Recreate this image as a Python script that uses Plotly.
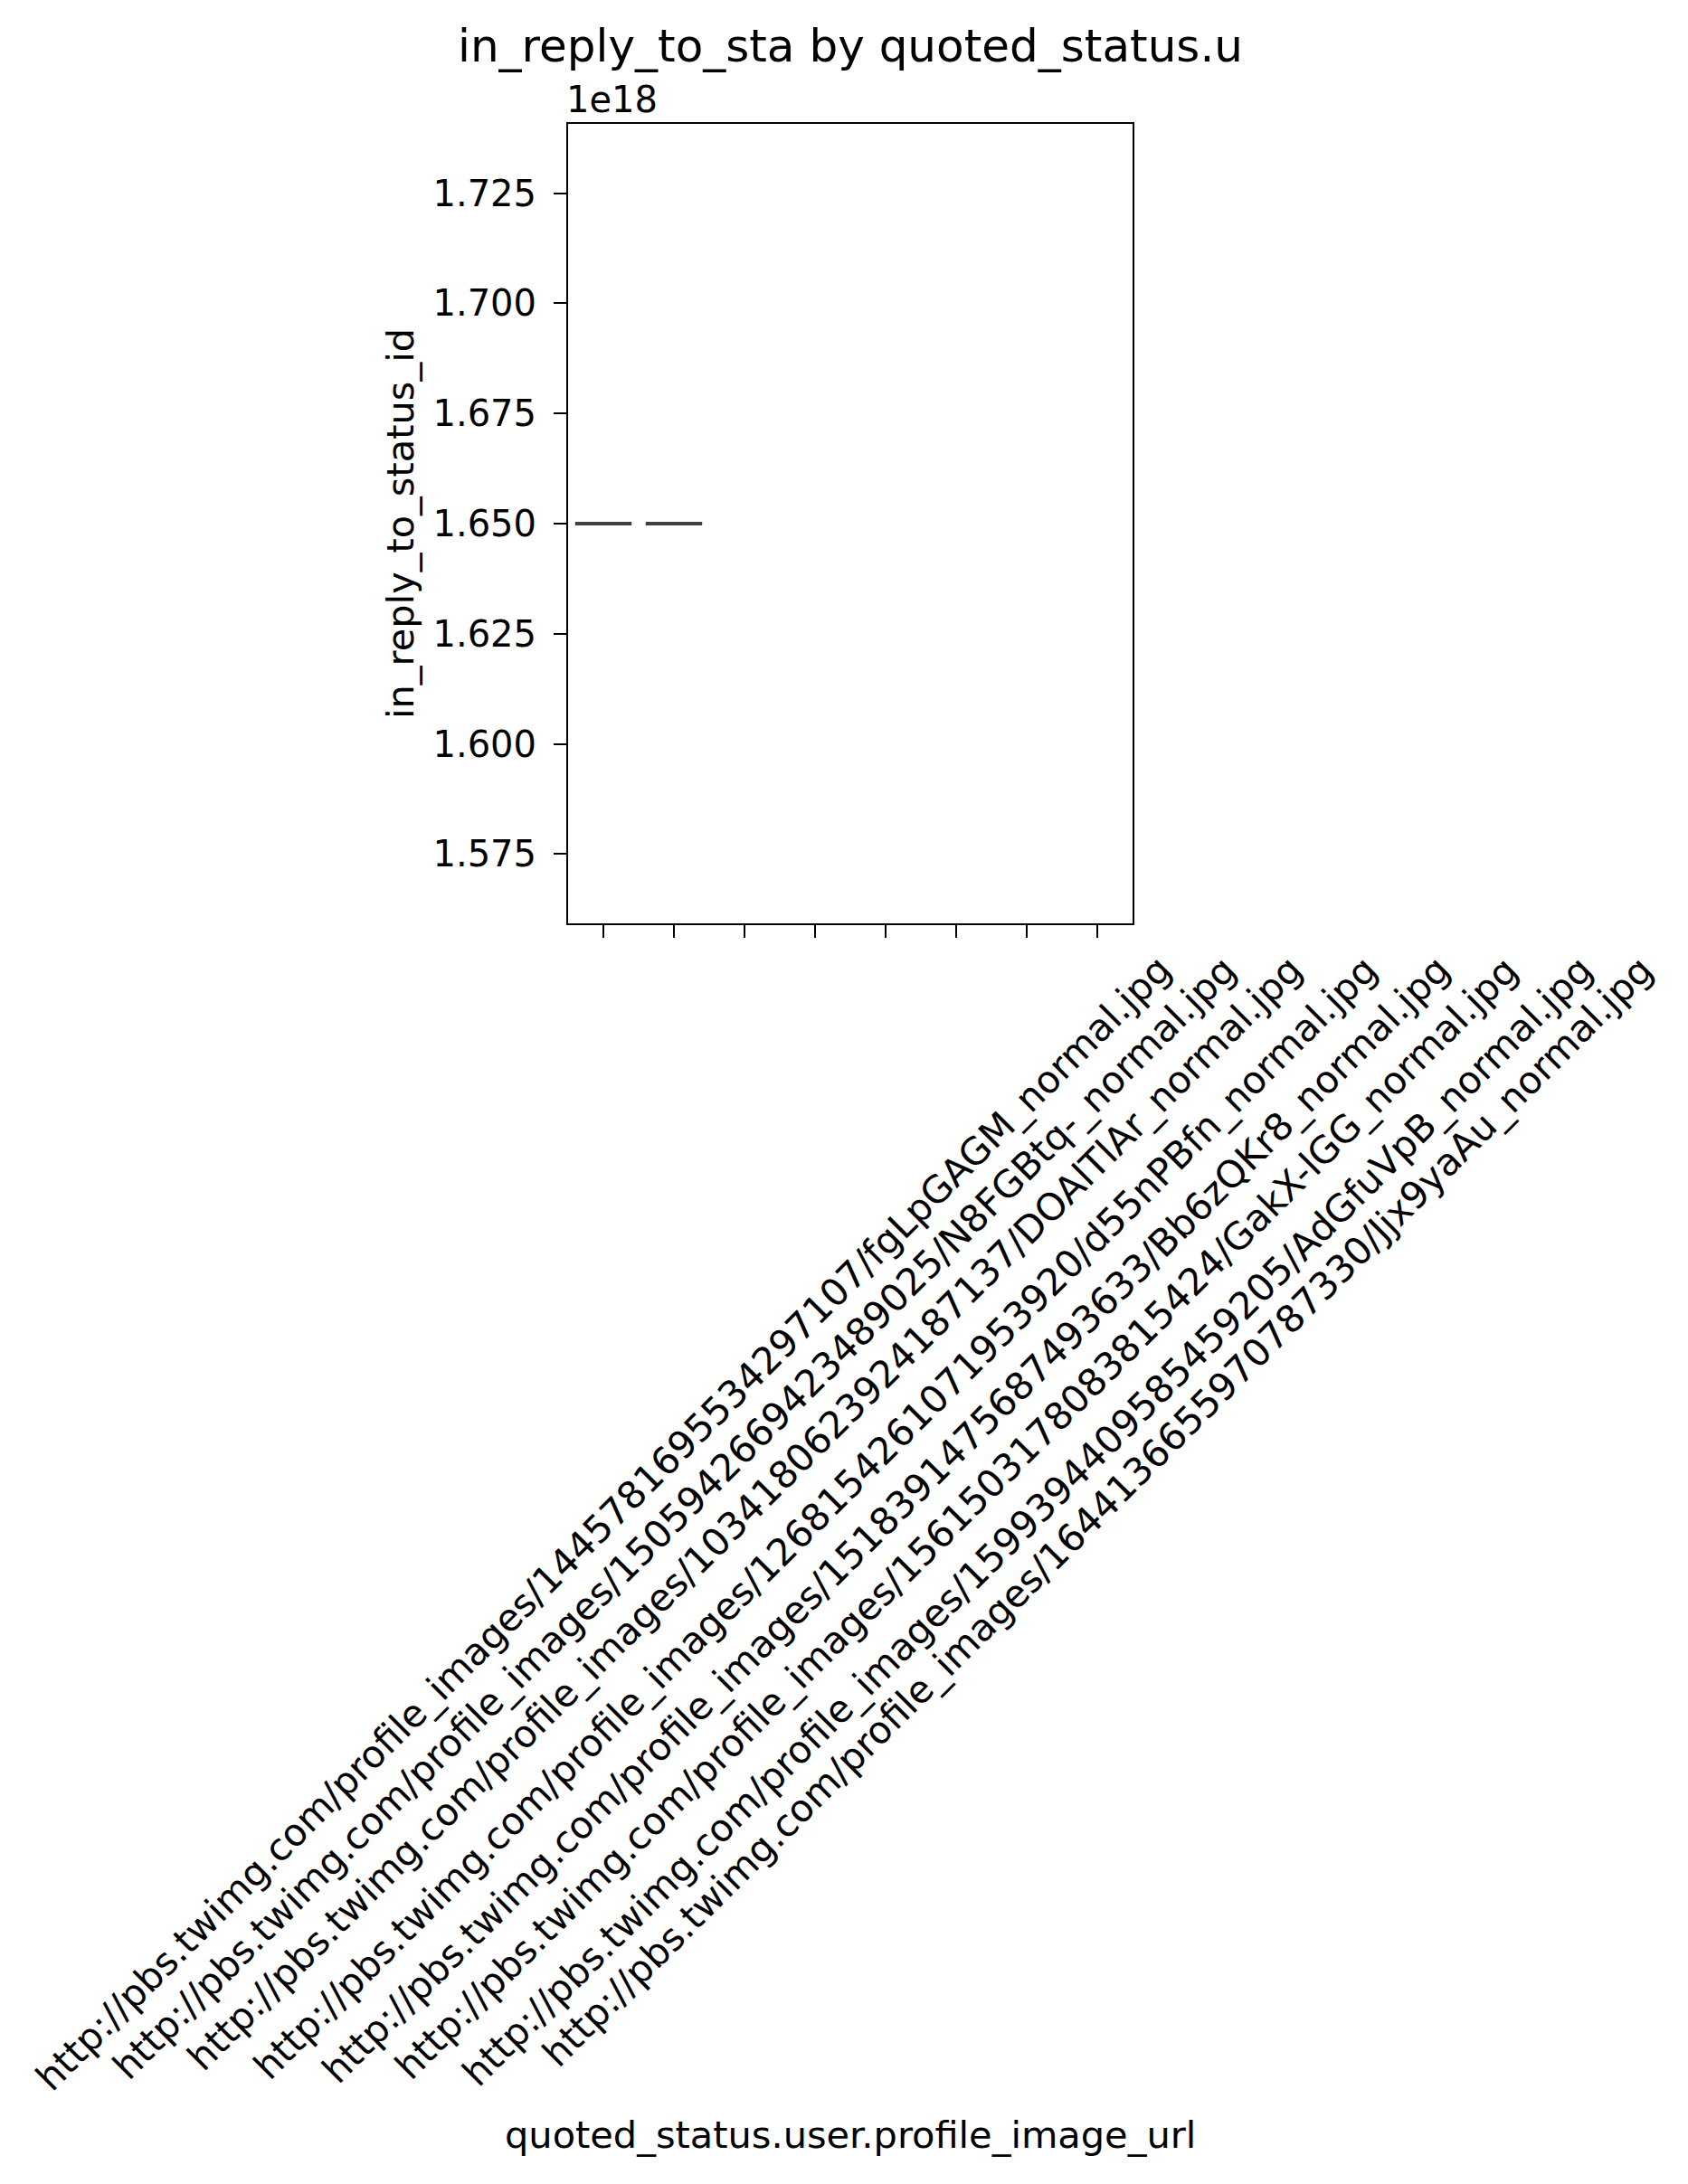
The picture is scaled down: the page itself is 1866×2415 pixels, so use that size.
import plotly.graph_objects as go

# ---- data ----
categories = [
    "http://pbs.twimg.com/profile_images/1445781695534297107/fgLpGAGM_normal.jpg",
    "http://pbs.twimg.com/profile_images/1505942669423489025/N8FGBtq-_normal.jpg",
    "http://pbs.twimg.com/profile_images/1034180623924187137/DOAlTlAr_normal.jpg",
    "http://pbs.twimg.com/profile_images/1268154261071953920/d55nPBfn_normal.jpg",
    "http://pbs.twimg.com/profile_images/1518391475687493633/Bb6zQKr8_normal.jpg",
    "http://pbs.twimg.com/profile_images/1561503178083815424/GakX-lGG_normal.jpg",
    "http://pbs.twimg.com/profile_images/1599394409585459205/AdGfuVpB_normal.jpg",
    "http://pbs.twimg.com/profile_images/1644136655970787330/Jjx9yaAu_normal.jpg",
]
values_cat1 = [1.65e18]
values_cat2 = [1.65e18]
series = [values_cat1, values_cat2, [], [], [], [], [], []]
y_tick_values = [1.575, 1.600, 1.625, 1.650, 1.675, 1.700, 1.725]
y_scale = 1e18
y_range = [1.55925, 1.74075]

title_text = "in_reply_to_sta by quoted_status.u"
x_label = "quoted_status.user.profile_image_url"
y_label = "in_reply_to_status_id"

# ---- layout constants (pixels) ----
W, H = 1866, 2415
L, R, T, B = 628, 1252, 137, 1021
FONT = "DejaVu Sans"
TICK_FS = 41.5
YTICK_FS = 40
TITLE_FS = 50
LINE_GREY = "#3f3f3f"

fig = go.Figure()
for i, vals in enumerate(series):
    if not vals:
        continue
    fig.add_trace(go.Box(
        x=[i] * len(vals), y=vals, width=0.8,
        line=dict(color=LINE_GREY, width=4),
        fillcolor="rgba(31,119,180,1)",
        boxpoints=False, showlegend=False, hoverinfo="skip",
        whiskerwidth=0.5,
    ))

annotations = []
# rotated x tick labels (matplotlib style: rotation 45, centred)
for i, lab in enumerate(categories):
    annotations.append(dict(
        x=i, xref="x", y=0, yref="paper", text=lab, showarrow=False,
        textangle=-45, xanchor="center", yanchor="top", yshift=-24,
        font=dict(family=FONT, size=TICK_FS, color="black"),
    ))
# offset text
annotations.append(dict(
    x=0, xref="paper", y=1, yref="paper", text="1e18", showarrow=False,
    xanchor="left", yanchor="middle", yshift=T - 110, xshift=-4,
    font=dict(family=FONT, size=YTICK_FS, color="black"),
))
# title
annotations.append(dict(
    x=0.5, xref="paper", y=1, yref="paper", text=title_text, showarrow=False,
    xanchor="center", yanchor="middle", yshift=T - 51,
    font=dict(family=FONT, size=TITLE_FS, color="black"),
))
# y label
annotations.append(dict(
    x=0, xref="paper", y=0.5, yref="paper", text=y_label, showarrow=False,
    xanchor="center", yanchor="middle", xshift=442 - L, textangle=-90,
    font=dict(family=FONT, size=TICK_FS, color="black"),
))
# x label
annotations.append(dict(
    x=0.5, xref="paper", y=0, yref="paper", text=x_label, showarrow=False,
    xanchor="center", yanchor="middle", yshift=-(2360 - B),
    font=dict(family=FONT, size=TICK_FS, color="black"),
))

fig.update_layout(
    width=W, height=H,
    margin=dict(l=L, r=W - R, t=T, b=H - B, autoexpand=False),
    paper_bgcolor="white", plot_bgcolor="white",
    font=dict(family=FONT, size=TICK_FS, color="black"),
    showlegend=False,
    annotations=annotations,
    xaxis=dict(
        range=[-0.5, len(categories) - 0.5],
        tickmode="array", tickvals=list(range(len(categories))),
        showticklabels=False, ticks="outside", ticklen=14, tickwidth=2,
        tickcolor="black", showline=True, linecolor="black", linewidth=2,
        mirror=True, showgrid=False, zeroline=False,
    ),
    yaxis=dict(
        range=[y_range[0] * y_scale, y_range[1] * y_scale],
        tickmode="array",
        tickvals=[v * y_scale for v in y_tick_values],
        ticktext=[f"{v:.3f}" for v in y_tick_values],
        ticks="outside", ticklen=14, tickwidth=2, tickcolor="black",
        ticklabelstandoff=11,
        tickfont=dict(family=FONT, size=YTICK_FS, color="black"),
        showline=True, linecolor="black", linewidth=2, mirror=True,
        showgrid=False, zeroline=False,
    ),
)

fig.write_html("out.html")
